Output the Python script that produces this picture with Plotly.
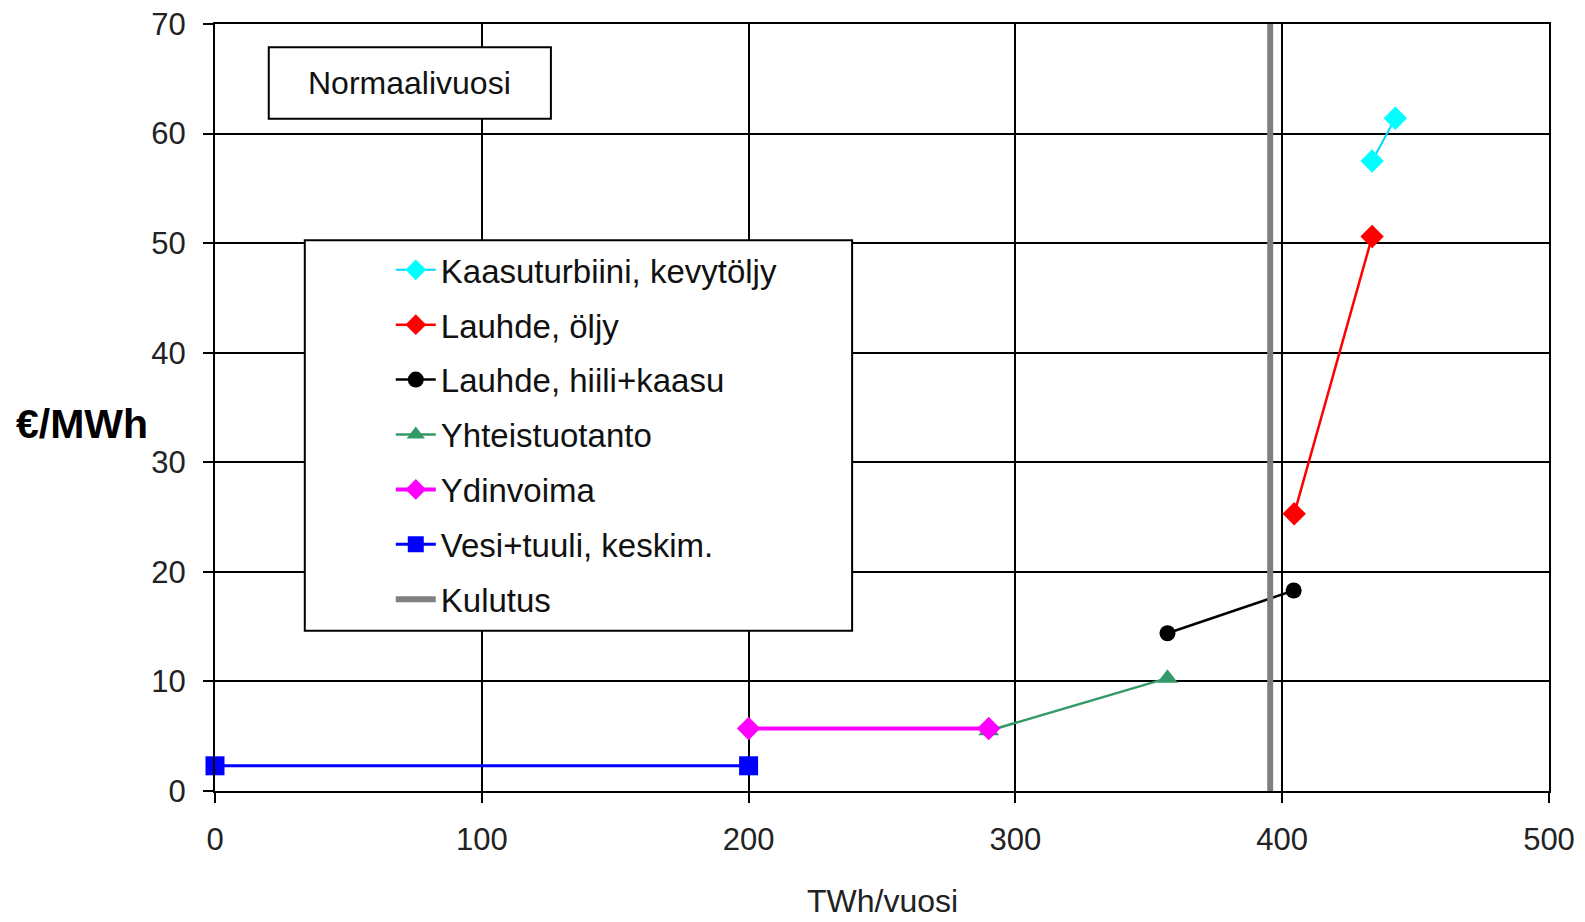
import plotly.graph_objects as go

# Supply curve segments: annual energy (TWh/vuosi) vs. marginal cost (€/MWh)
kaasuturbiini_x = [433.7, 442.4]
kaasuturbiini_y = [57.5, 61.4]

lauhde_oljy_x = [404.5, 433.7]
lauhde_oljy_y = [25.3, 50.6]

lauhde_hiili_x = [357.0, 404.3]
lauhde_hiili_y = [14.4, 18.3]

yhteis_x = [290.0, 357.0]
yhteis_y = [5.5, 10.3]

ydinvoima_x = [200.0, 290.0]
ydinvoima_y = [5.7, 5.7]

vesi_x = [0.0, 200.0]
vesi_y = [2.3, 2.3]

kulutus_x = [395.5, 395.5]
kulutus_y = [0.0, 70.0]

FONT = "Liberation Sans, Arial, sans-serif"

fig = go.Figure()

series = [
    ("Kaasuturbiini, kevytöljy", kaasuturbiini_x, kaasuturbiini_y, "#00d8ff", 2,
     dict(symbol="diamond", size=18, color="#00ffff")),
    ("Lauhde, öljy", lauhde_oljy_x, lauhde_oljy_y, "#ff0000", 2.5,
     dict(symbol="diamond", size=18, color="#ff0000")),
    ("Lauhde, hiili+kaasu", lauhde_hiili_x, lauhde_hiili_y, "#000000", 2.5,
     dict(symbol="circle", size=16, color="#000000")),
    ("Yhteistuotanto", yhteis_x, yhteis_y, "#339966", 2.5,
     dict(symbol="triangle-up", size=18, color="#339966")),
    ("Ydinvoima", ydinvoima_x, ydinvoima_y, "#ff00ff", 4,
     dict(symbol="diamond", size=18, color="#ff00ff")),
    ("Vesi+tuuli, keskim.", vesi_x, vesi_y, "#0000ff", 3,
     dict(symbol="square", size=19, color="#0000ff")),
]

for i, (name, xs, ys, lc, lw, mk) in enumerate(series):
    fig.add_trace(go.Scatter(
        x=xs, y=ys, name=name, mode="lines+markers",
        line=dict(color=lc, width=lw), marker=mk,
        legendgroup=f"g{i}", cliponaxis=False,
    ))

fig.add_trace(go.Scatter(
    x=kulutus_x, y=kulutus_y, name="Kulutus", mode="lines",
    line=dict(color="#808080", width=6), legendgroup="g6",
))

# Title box in the upper-left corner of the plot
fig.add_shape(type="rect", xref="paper", yref="paper",
              x0=0.0403, x1=0.2518, y0=0.8766, y1=0.9698,
              line=dict(color="black", width=2), fillcolor="white", layer="above")
fig.add_annotation(xref="paper", yref="paper", x=0.146, y=0.923,
                   xanchor="center", yanchor="middle",
                   text="Normaalivuosi", showarrow=False,
                   font=dict(family=FONT, size=32, color="#111"))

# Frame behind the legend entries
fig.add_shape(type="rect", xref="paper", yref="paper",
              x0=0.0673, x1=0.4776, y0=0.209, y1=0.7180,
              line=dict(color="black", width=2), fillcolor="white", layer="above")

axis_common = dict(
    showgrid=True, gridcolor="black", gridwidth=2,
    showline=True, linecolor="black", linewidth=2, mirror=True,
    ticks="outside", ticklen=10, tickwidth=2, tickcolor="black",
    tickfont=dict(family=FONT, size=31, color="#222"),
    zeroline=False, automargin=False,
)

fig.update_layout(
    width=1585, height=922,
    margin=dict(l=215, r=36, t=24, b=131),
    paper_bgcolor="white", plot_bgcolor="white",
    showlegend=True,
    legend=dict(
        x=0.0673, y=0.7160, xanchor="left", yanchor="top",
        bgcolor="rgba(0,0,0,0)", borderwidth=0,
        font=dict(family=FONT, size=33, color="#111"),
        tracegroupgap=9, traceorder="grouped",
        indentation=86, itemwidth=40,
    ),
    xaxis=dict(range=[0, 500], dtick=100, ticklabelstandoff=10, **axis_common),
    yaxis=dict(range=[0, 70], dtick=10, ticklabelstandoff=11, **axis_common),
)

fig.add_annotation(xref="paper", yref="paper", x=0.5, y=-0.1435,
                   xanchor="center", yanchor="middle", text="TWh/vuosi",
                   showarrow=False,
                   font=dict(family=FONT, size=32, color="#222"))
fig.add_annotation(xref="paper", yref="paper", x=-0.100, y=0.478,
                   xanchor="center", yanchor="middle", text="<b>€/MWh</b>",
                   showarrow=False,
                   font=dict(family=FONT, size=41, color="black"))

fig.write_html("out.html")
